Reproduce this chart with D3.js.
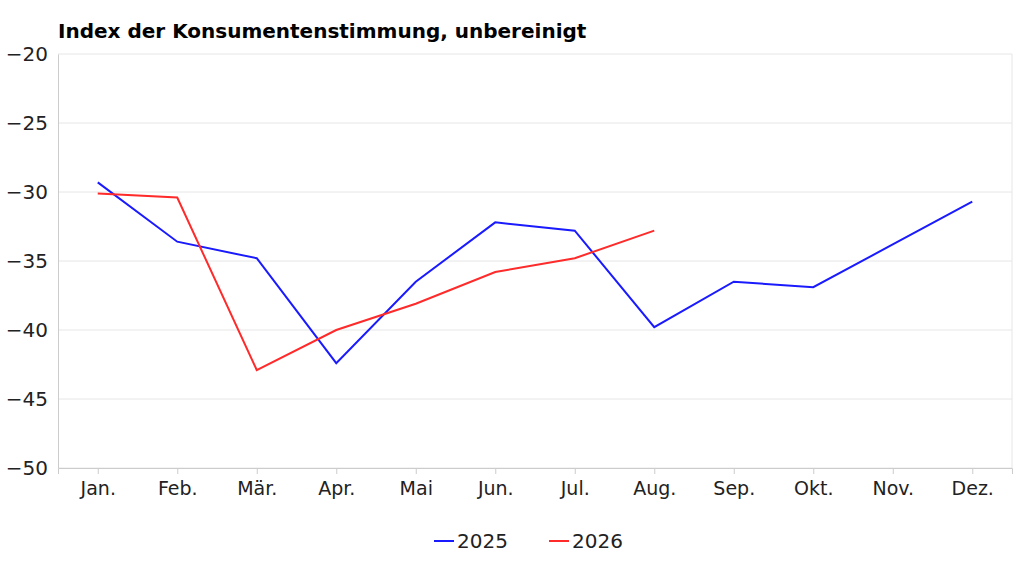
<!DOCTYPE html>
<html><head><meta charset="utf-8">
<script src="https://cdn.jsdelivr.net/npm/d3@7"></script>
<style>body{margin:0;background:#fff}svg{font-family:"DejaVu Sans",sans-serif}</style>
</head><body>
<svg id="chart" width="1024" height="576"></svg>
<script>
const months = ['Jan.', 'Feb.', 'Mär.', 'Apr.', 'Mai', 'Jun.', 'Jul.', 'Aug.', 'Sep.', 'Okt.', 'Nov.', 'Dez.'];
const values2025 = [-29.3, -33.6, -34.8, -42.4, -36.5, -32.2, -32.8, -39.8, -36.5, -36.9, -33.8, -30.7];
const values2026 = [-30.1, -30.4, -42.9, -40.0, -38.1, -35.8, -34.8, -32.8];
const yTicks = [-20, -25, -30, -35, -40, -45, -50];

const svg = d3.select('#chart');
const plotLeft = 58, plotRight = 1012, plotTop = 54, plotBottom = 468;

const x = d3.scalePoint().domain(months).range([plotLeft, plotRight]).padding(0.5);
const y = d3.scaleLinear().domain([-50, -20]).range([plotBottom, plotTop]);

// title
svg.append('text').attr('x', 58).attr('y', 38)
  .attr('font-size', 20).attr('font-weight', 'bold').text('Index der Konsumentenstimmung, unbereinigt');

// grid
svg.append('g').selectAll('line').data(yTicks).enter().append('line')
  .attr('x1', plotLeft).attr('x2', plotRight)
  .attr('y1', d => y(d)).attr('y2', d => y(d))
  .attr('stroke', '#e6e6e6');
svg.append('line').attr('x1', plotRight).attr('x2', plotRight).attr('y1', plotTop).attr('y2', plotBottom).attr('stroke', '#e6e6e6');

// axes
const yAxis = svg.append('g').attr('transform', `translate(${plotLeft},0)`)
  .call(d3.axisLeft(y).tickValues(yTicks).tickSize(0).tickPadding(10).tickFormat(d3.format('d')));
yAxis.select('.domain').attr('stroke', '#ccc');
yAxis.selectAll('text').attr('font-size', 20).attr('fill', '#222').attr('font-family', 'DejaVu Sans');

const xAxis = svg.append('g').attr('transform', `translate(0,${plotBottom})`)
  .call(d3.axisBottom(x).tickSize(6).tickPadding(8));
xAxis.select('.domain').attr('stroke', '#ccc');
xAxis.selectAll('line').attr('stroke', '#ccc');
xAxis.selectAll('text').attr('font-size', 19).attr('fill', '#222').attr('font-family', 'DejaVu Sans');

// lines
const line = d3.line().x((d, i) => x(months[i])).y(d => y(d));
svg.append('path').datum(values2025).attr('d', line).attr('fill', 'none').attr('stroke', '#1a1aff').attr('stroke-width', 2);
svg.append('path').datum(values2026).attr('d', line).attr('fill', 'none').attr('stroke', '#ff2a2a').attr('stroke-width', 2);

// legend
const legend = [{ name: '2025', color: '#1a1aff', x: 434 }, { name: '2026', color: '#ff2a2a', x: 549 }];
const lg = svg.append('g').selectAll('g').data(legend).enter().append('g')
  .attr('transform', d => `translate(${d.x},541)`);
lg.append('line').attr('x1', 0).attr('x2', 20).attr('stroke', d => d.color).attr('stroke-width', 2);
lg.append('text').attr('x', 23).attr('y', 7).attr('font-size', 20).attr('fill', '#222').text(d => d.name);
</script>
</body></html>
